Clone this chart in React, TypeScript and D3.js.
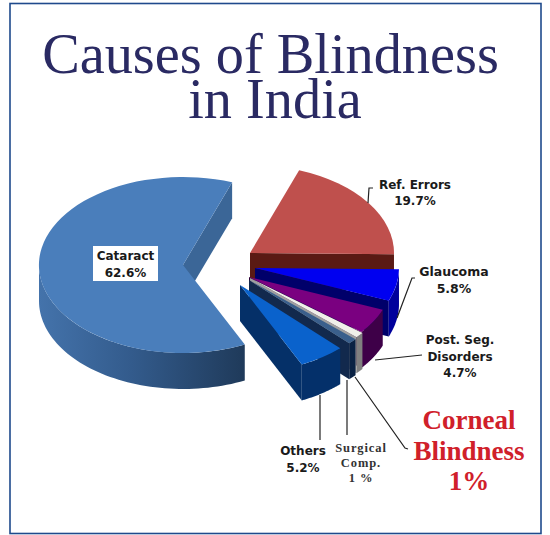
import React from "react";
import * as d3 from "d3";

const categories = ["Cataract", "Ref. Errors", "Glaucoma", "Post. Seg. Disorders", "Corneal Blindness", "Surgical Comp.", "Others"];
const values = [62.6, 19.7, 5.8, 4.7, 1, 1, 5.2];

// styling / layout, index-aligned with categories
const topColors = ["#4a7ebb", "#bf504d", "#0000f0", "#7a0080", "#f0f0ea", "#3a5f8c", "#0a62cc"];
const outerColors = ["url(#catSide)", "#5a1a14", "#00009c", "#3e0048", "#808080", "#0a2244", "#04306a"];
const wallColors = ["#3b6697", "#5a1a14", "#00006a", "#2a0034", "#a0a0a0", "#12294d", "#053068"];
const apexX = [183, 250, 255, 249, 250, 249, 240];
const apexY = [265, 253, 268, 277, 278, 280, 285];

const RX = 144;
const RY = 88;
const DEPTH = 36;
const START = (154.6 * Math.PI) / 180;
const TAU = 2 * Math.PI;

const pieGen = d3.pie<number>().sort(null).startAngle(START).endAngle(START + TAU);
const arcs = pieGen(values).map((d, i) =>
  i === 0 ? d : { ...d, startAngle: d.startAngle - TAU, endAngle: d.endAngle - TAU }
);

const unitArc = d3.arc<d3.PieArcDatum<number>>().innerRadius(0).outerRadius(1);
const px = (a: number) => RX * Math.sin(a);
const py = (a: number) => -RY * Math.cos(a);
const line = d3.line();

function outerWall(a0: number, a1: number, cx: number, cy: number) {
  const lo = Math.max(a0, Math.PI / 2);
  const hi = Math.min(a1, (3 * Math.PI) / 2);
  if (hi <= lo) return null;
  const pts: [number, number][] = [];
  const n = 60;
  for (let i = 0; i <= n; i++) {
    const a = lo + ((hi - lo) * i) / n;
    pts.push([cx + px(a), cy + py(a)]);
  }
  for (let i = n; i >= 0; i--) {
    const a = lo + ((hi - lo) * i) / n;
    pts.push([cx + px(a), cy + py(a) + DEPTH]);
  }
  return line(pts) + "Z";
}

function radialWall(a: number, cx: number, cy: number) {
  const x = cx + px(a);
  const y = cy + py(a);
  return line([[cx, cy], [x, y], [x, y + DEPTH], [cx, cy + DEPTH]]) + "Z";
}

const serif = "'Liberation Serif', serif";
const sans = "'DejaVu Sans', sans-serif";

type Lbl = { lines: string[]; x: number; y: number; size: number; lh: number; font: string; color: string; ls?: number };
const labels: Lbl[] = [
  { lines: ["Ref. Errors", "19.7%"], x: 415, y: 189, size: 12, lh: 16, font: sans, color: "#1a1a1a" },
  { lines: ["Glaucoma", "5.8%"], x: 454, y: 276, size: 12.5, lh: 17, font: sans, color: "#1a1a1a" },
  { lines: ["Post. Seg.", "Disorders", "4.7%"], x: 460, y: 344, size: 12, lh: 16.5, font: sans, color: "#1a1a1a" },
  { lines: ["Others", "5.2%"], x: 303, y: 455, size: 12, lh: 17, font: sans, color: "#1a1a1a" },
  { lines: ["Surgical", "Comp.", "1 %"], x: 361, y: 452, size: 12.5, lh: 15, font: serif, color: "#333333", ls: 0.9 },
  { lines: ["Corneal", "Blindness", "1%"], x: 469, y: 429, size: 27, lh: 30.5, font: serif, color: "#d0202a" },
];
const leaders = [
  [[368, 203], [369, 188], [373, 188]],
  [[397, 318], [412, 278], [415, 278]],
  [[375, 360], [422, 355]],
  [[320, 395], [320, 440]],
  [[347, 380], [347, 435]],
  [[355, 377], [405, 448], [408, 449]],
] as [number, number][][];

export default function App() {
  return (
    <svg width={550} height={535} style={{ position: "absolute", left: 0, top: 0, background: "#fff" }}>
      <defs>
        <linearGradient id="catSide" x1="0" x2="1" y1="0" y2="0">
          <stop offset="0" stopColor="#4473ab" />
          <stop offset="0.45" stopColor="#335b8c" />
          <stop offset="1" stopColor="#1f3a5a" />
        </linearGradient>
      </defs>
      <rect x={10} y={3.5} width={531} height={530} fill="#ffffff" stroke="#1f4a8c" strokeWidth={1.6} />
      <text x={270.5} y={73} textAnchor="middle" fontFamily={serif} fontSize={56.3} fill="#2a2a63">Causes of Blindness</text>
      <text x={275} y={118} textAnchor="middle" fontFamily={serif} fontSize={56.3} fill="#2a2a63">in India</text>

      {arcs.map((d, i) => {
        const cx = apexX[i];
        const cy = apexY[i];
        const o = outerWall(d.startAngle, d.endAngle, cx, cy);
        return (
          <g key={categories[i]}>
            <path d={radialWall(d.endAngle, cx, cy)} fill={wallColors[i]} />
            {o && <path d={o} fill={outerColors[i]} />}
            <g transform={`translate(${cx},${cy}) scale(${RX},${RY})`}>
              <path d={unitArc(d) || ""} fill={topColors[i]} />
            </g>
          </g>
        );
      })}

      {leaders.map((p, i) => (
        <path key={i} d={line(p) || ""} fill="none" stroke="#222" strokeWidth={1.2} />
      ))}

      <rect x={93} y={246} width={65} height={35} fill="#ffffff" />
      <text textAnchor="middle" fontFamily={sans} fontSize={12} fontWeight="bold" fill="#1a1a1a">
        <tspan x={125.5} y={260}>Cataract</tspan>
        <tspan x={125.5} y={277}>62.6%</tspan>
      </text>

      {labels.map((l, i) => (
        <text key={i} textAnchor="middle" fontFamily={l.font} fontSize={l.size} fontWeight="bold" fill={l.color} letterSpacing={l.ls}>
          {l.lines.map((t, j) => (
            <tspan key={j} x={l.x} y={l.y + j * l.lh}>{t}</tspan>
          ))}
        </text>
      ))}
    </svg>
  );
}
